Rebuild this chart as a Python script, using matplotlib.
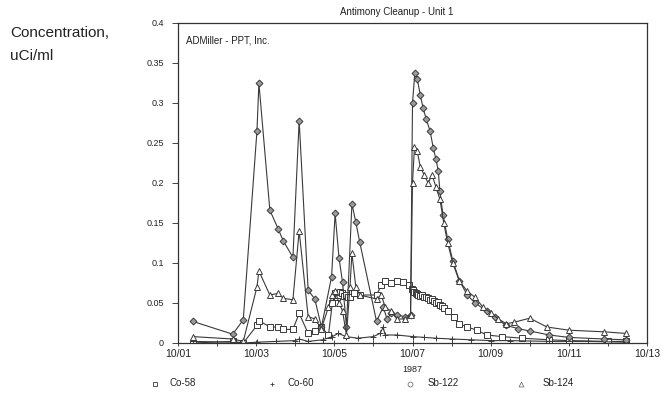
"""Antimony Cleanup - Unit 1: isotope concentrations, October 1987."""

import matplotlib
matplotlib.use("Agg")
import matplotlib.pyplot as plt
from matplotlib.lines import Line2D
from matplotlib.ticker import MultipleLocator, FuncFormatter

plt.rcParams["font.family"] = ["Liberation Sans", "DejaVu Sans"]

# time axis: day of October 1987 (1.0 = 10/01 00:00)
sb122_t = [1.38, 2.40, 2.67, 3.02, 3.07, 3.35, 3.56, 3.69, 3.94, 4.10, 4.33, 4.50,
           4.67, 4.93, 5.02, 5.12, 5.21, 5.31, 5.45, 5.55, 5.65, 6.08, 6.25, 6.35,
           6.45, 6.60, 6.80, 6.95, 7.00, 7.06, 7.12, 7.20, 7.27, 7.35, 7.45, 7.53,
           7.60, 7.66, 7.70, 7.78, 7.90, 8.03, 8.20, 8.40, 8.60, 8.90, 9.10, 9.40,
           9.70, 10.00, 10.50, 11.00, 11.90, 12.45]
sb122_v = [0.027, 0.011, 0.029, 0.265, 0.325, 0.166, 0.143, 0.128, 0.107, 0.278, 0.066, 0.055,
           0.020, 0.083, 0.162, 0.106, 0.076, 0.020, 0.174, 0.151, 0.126, 0.027, 0.045, 0.030,
           0.037, 0.035, 0.033, 0.035, 0.300, 0.338, 0.330, 0.310, 0.294, 0.280, 0.265, 0.244,
           0.230, 0.215, 0.190, 0.160, 0.130, 0.103, 0.078, 0.060, 0.050, 0.040, 0.032, 0.022,
           0.018, 0.015, 0.010, 0.007, 0.005, 0.004]

sb124_t = [1.38, 2.40, 2.67, 3.02, 3.07, 3.35, 3.56, 3.69, 3.94, 4.10, 4.33, 4.50,
           4.67, 4.85, 4.95, 5.02, 5.12, 5.21, 5.31, 5.40, 5.45, 5.55, 5.65, 6.08,
           6.20, 6.30, 6.45, 6.60, 6.80, 6.95, 7.00, 7.05, 7.12, 7.20, 7.30, 7.40,
           7.50, 7.60, 7.70, 7.80, 7.90, 8.03, 8.20, 8.40, 8.60, 8.80, 9.00, 9.20,
           9.40, 9.60, 10.00, 10.44, 11.00, 11.90, 12.45]
sb124_v = [0.008, 0.005, 0.002, 0.070, 0.090, 0.060, 0.062, 0.056, 0.054, 0.140, 0.033, 0.030,
           0.018, 0.045, 0.060, 0.065, 0.050, 0.040, 0.010, 0.070, 0.112, 0.070, 0.060, 0.055,
           0.060, 0.045, 0.040, 0.030, 0.030, 0.035, 0.200, 0.245, 0.240, 0.220, 0.210, 0.200,
           0.210, 0.195, 0.180, 0.150, 0.125, 0.100, 0.077, 0.065, 0.057, 0.045, 0.038, 0.030,
           0.024, 0.026, 0.031, 0.020, 0.016, 0.014, 0.012]

co58_t = [1.38, 2.40, 2.67, 3.02, 3.07, 3.35, 3.56, 3.69, 3.94, 4.10, 4.33, 4.50,
          4.67, 4.85, 4.95, 5.02, 5.06, 5.10, 5.15, 5.20, 5.25, 5.30, 5.35, 5.40,
          5.50, 5.65, 6.08, 6.20, 6.30, 6.45, 6.60, 6.75, 6.90, 6.98, 7.02, 7.05,
          7.08, 7.12, 7.15, 7.20, 7.25, 7.30, 7.35, 7.40, 7.45, 7.50, 7.55, 7.60,
          7.65, 7.70, 7.75, 7.80, 7.90, 8.05, 8.20, 8.40, 8.65, 8.90, 9.30, 9.80,
          10.50, 11.00, 12.00, 12.45]
co58_v = [0.000, 0.002, 0.000, 0.022, 0.028, 0.020, 0.020, 0.017, 0.017, 0.037, 0.012, 0.015,
          0.020, 0.010, 0.050, 0.062, 0.058, 0.060, 0.064, 0.063, 0.059, 0.060, 0.057, 0.058,
          0.062, 0.060, 0.060, 0.072, 0.077, 0.075, 0.078, 0.076, 0.073, 0.068, 0.066, 0.064,
          0.063, 0.061, 0.060, 0.059, 0.060, 0.058, 0.057, 0.056, 0.054, 0.055, 0.052, 0.050,
          0.051, 0.048, 0.046, 0.044, 0.040, 0.032, 0.024, 0.020, 0.016, 0.010, 0.008, 0.006,
          0.004, 0.003, 0.002, 0.002]

co60_t = [1.38, 2.40, 2.67, 3.02, 3.50, 4.00, 4.10, 4.33, 4.70, 4.95, 5.10, 5.30,
          5.60, 6.00, 6.17, 6.25, 6.30, 6.60, 7.00, 7.30, 7.60, 8.00, 8.50, 9.00,
          9.50, 10.50, 11.50, 12.45]
co60_v = [0.002, 0.001, 0.000, 0.001, 0.002, 0.003, 0.005, 0.002, 0.004, 0.008, 0.012, 0.008,
          0.006, 0.008, 0.012, 0.020, 0.010, 0.010, 0.008, 0.007, 0.006, 0.005, 0.004, 0.003,
          0.003, 0.002, 0.002, 0.001]

x_ticks = [1, 3, 5, 7, 9, 11, 13]
x_labels = ["10/01", "10/03", "10/05", "10/07", "10/09", "10/11", "10/13"]

LINE = "#3a3a3a"
TEXT = "#222222"

fig = plt.figure(figsize=(6.72, 4.01), dpi=100)
ax = fig.add_axes([178 / 672, 1 - 343 / 401, 469 / 672, 320 / 401])

style = dict(color=LINE, lw=0.8, ms=4, mew=0.7)
ax.plot(co58_t, co58_v, marker="s", mfc="white", mec=LINE, **style)
ax.plot(co60_t, co60_v, marker="+", mec=LINE, **style)
ax.plot(sb122_t, sb122_v, marker="D", mfc="#9a9a9a", mec=LINE, **dict(style, ms=3.5))
ax.plot(sb124_t, sb124_v, marker="^", mfc="white", mec=LINE, **style)

ax.set_xlim(1, 13)
ax.set_ylim(0, 0.4)
ax.set_xticks(x_ticks)
ax.set_xticklabels(x_labels)
ax.xaxis.set_minor_locator(MultipleLocator(1))
ax.yaxis.set_major_locator(MultipleLocator(0.05))
ax.yaxis.set_major_formatter(FuncFormatter(lambda v, _: f"{v:g}"))
ax.tick_params(axis="x", which="both", direction="inout", length=4, width=0.6,
               labelsize=7.5, pad=2, colors=TEXT)
ax.tick_params(axis="y", direction="out", length=4, width=0.6, labelsize=6.5,
               pad=6, colors=TEXT)
for side in ax.spines.values():
    side.set_linewidth(0.9)
    side.set_color("#333333")

ax.set_xlabel("1987", fontsize=6.5, labelpad=5, color=TEXT)
ax.text(0.017, 0.944, "ADMiller - PPT, Inc.", transform=ax.transAxes,
        fontsize=7, va="center", ha="left", color=TEXT)

fig.text(397 / 672, 1 - 12 / 401, "Antimony Cleanup - Unit 1", ha="center",
         va="center", fontsize=7, color=TEXT)
fig.text(10 / 672, 1 - 33 / 401, "Concentration,", ha="left", va="center",
         fontsize=11, color=TEXT)
fig.text(10 / 672, 1 - 56 / 401, "uCi/ml", ha="left", va="center",
         fontsize=11, color=TEXT)

# legend row below the axis, placed by hand like the original
leg_names = ["Co-58", "Co-60", "Sb-122", "Sb-124"]
leg_markers = [("s", "white", LINE), ("+", "none", LINE),
               ("o", "white", "#777777"), ("^", "white", "#777777")]
leg_marker_x = [155, 272, 410, 521]
leg_text_x = [170, 288, 428, 543]
leg_y = 1 - 384 / 401
for name, (mk, fc, ec), mx, tx in zip(leg_names, leg_markers, leg_marker_x, leg_text_x):
    fig.add_artist(Line2D([mx / 672], [leg_y], transform=fig.transFigure, ls="none",
                          marker=mk, ms=3.5, mfc=fc, mec=ec, mew=0.6))
    fig.text(tx / 672, leg_y + 0.003, name, ha="left", va="center", fontsize=7, color=TEXT)

fig.savefig("out.png", dpi=100)
